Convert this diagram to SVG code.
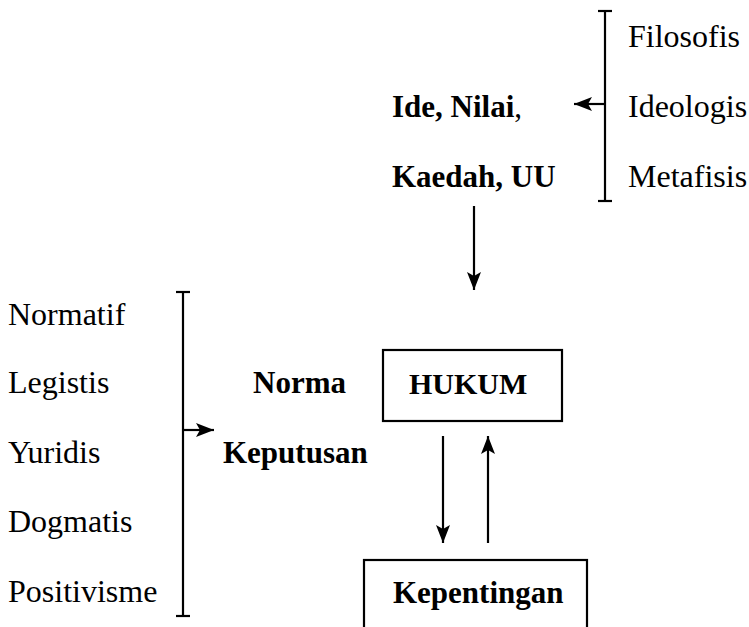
<svg xmlns="http://www.w3.org/2000/svg" width="749" height="627" viewBox="0 0 749 627">
<defs>
<style>
.t{font-family:"Liberation Serif","Times New Roman",serif;font-size:32px;fill:#000}
.b{font-family:"Liberation Serif","Times New Roman",serif;font-size:31px;font-weight:bold;fill:#000}
.ln{stroke:#000;stroke-width:2.2;fill:none}
.box{stroke:#000;stroke-width:2.2;fill:#fff}
</style>
<marker id="ah" markerUnits="userSpaceOnUse" markerWidth="20" markerHeight="14" refX="18" refY="7" orient="auto">
<path d="M0,0 L18,7 L0,14 L4,7 Z" fill="#000"/>
</marker>
</defs>
<rect width="749" height="627" fill="#fff"/>
<g id="connectors">
<line class="ln" x1="605" y1="11" x2="605" y2="201"/>
<line class="ln" x1="598" y1="11" x2="612" y2="11"/>
<line class="ln" x1="598" y1="201" x2="612" y2="201"/>
<line class="ln" x1="605" y1="104" x2="574" y2="104" marker-end="url(#ah)"/>
<line class="ln" x1="474" y1="206" x2="474" y2="290" marker-end="url(#ah)"/>
<line class="ln" x1="183" y1="292" x2="183" y2="616"/>
<line class="ln" x1="176" y1="292" x2="190" y2="292"/>
<line class="ln" x1="176" y1="616" x2="190" y2="616"/>
<line class="ln" x1="183" y1="430" x2="214" y2="430" marker-end="url(#ah)"/>
<line class="ln" x1="443" y1="436" x2="443" y2="543" marker-end="url(#ah)"/>
<line class="ln" x1="488" y1="543" x2="488" y2="436" marker-end="url(#ah)"/>
</g>
<g id="top-list">
<text class="t" x="628" y="47">Filosofis</text>
<text class="t" x="628" y="117">Ideologis</text>
<text class="t" x="628" y="187">Metafisis</text>
</g>
<g id="ide-nilai">
<text class="b" x="392" y="117">Ide, Nilai<tspan style="font-weight:normal">,</tspan></text>
<text class="b" x="392" y="187">Kaedah, UU</text>
</g>
<g id="left-list">
<text class="t" x="8" y="325">Normatif</text>
<text class="t" x="8" y="393">Legistis</text>
<text class="t" x="8" y="463">Yuridis</text>
<text class="t" x="8" y="532">Dogmatis</text>
<text class="t" x="8" y="602">Positivisme</text>
</g>
<g id="norma">
<text class="b" x="253" y="393">Norma</text>
<text class="b" x="223" y="463">Keputusan</text>
</g>
<g id="hukum">
<rect class="box" x="383" y="350" width="179" height="71"/>
<text class="b" x="409" y="394" style="font-size:30px">HUKUM</text>
</g>
<g id="kepentingan">
<rect class="box" x="364" y="560" width="223" height="80"/>
<text class="b" x="393" y="603">Kepentingan</text>
</g>
</svg>
